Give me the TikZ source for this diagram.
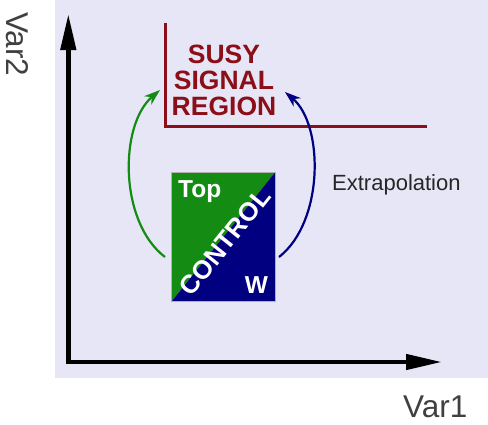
\documentclass[tikz,border=0pt]{standalone}
\usepackage{fontspec}
\setmainfont{Liberation Sans}
\usetikzlibrary{arrows.meta}
\definecolor{bgl}{RGB}{230,230,246}
\definecolor{susyred}{RGB}{140,14,24}
\definecolor{ctrlgreen}{RGB}{20,140,20}
\definecolor{ctrlblue}{RGB}{0,0,128}
\definecolor{labgray}{RGB}{64,64,64}
\tikzset{
  axis/.style={line width=4.5pt,-{Triangle[length=36pt,width=15pt]}},
  susyline/.style={susyred,line width=3pt},
  extrap/.style={line width=2.2pt,-{Stealth[length=16pt,width=11pt,inset=5pt]}},
  susytext/.style={susyred,font=\fontsize{26.5}{26.5}\selectfont\bfseries,inner sep=0pt,anchor=base},
  boxtext/.style={white,inner sep=0pt},
}
\begin{document}
\begin{tikzpicture}[x=1pt,y=-1pt]
\useasboundingbox (0,0) rectangle (488,424);
\fill[bgl] (55,0) rectangle (488,378);
% axes
\coordinate (o) at (68.3,362);
\coordinate (ytop) at (68.3,14);
\coordinate (xend) at (442,362);
\draw[axis] ([yshift=-2.25pt]o) -- (ytop);
\draw[axis] ([xshift=-2.25pt]o) -- (xend);
% signal region boundary
\coordinate (sr1) at (165.5,22.5);
\coordinate (sr2) at (165.5,126.5);
\coordinate (sr3) at (427,126.5);
\draw[susyline] (sr1) -- (sr2) -- (sr3);
\node[susytext] (susy) at (224,63) {SUSY};
\node[susytext] (signal) at (224,89) {SIGNAL};
\node[susytext] (region) at (224,115) {REGION};
% control box
\coordinate (bl) at (171.5,301.5);
\coordinate (tl) at (171.5,172.5);
\coordinate (tr) at (275,172.5);
\coordinate (br) at (275,301.5);
\fill[ctrlgreen] (bl) -- (tl) -- (tr) -- cycle;
\fill[ctrlblue] (bl) -- (tr) -- (br) -- cycle;
\draw[gray!60,line width=0.6pt] (bl) rectangle (tr);
\node[boxtext,font=\fontsize{24.5}{24.5}\selectfont\bfseries,anchor=base west] (top) at (178,197) {Top};
\node[boxtext,font=\fontsize{24.5}{24.5}\selectfont\bfseries,anchor=base] (w) at (256.5,293) {W};
\node[boxtext,font=\fontsize{26}{26}\selectfont\bfseries,rotate=51.3] (control) at (225,242) {CONTROL};
% extrapolation arrows
\coordinate (gs) at (165,257);
\coordinate (ge) at (160,90);
\coordinate (bs) at (279,257);
\coordinate (be) at (285,92);
\draw[extrap,ctrlgreen] (gs) .. controls (119,222) and (119,125) .. (ge);
\draw[extrap,ctrlblue] (bs) .. controls (324,222) and (324,125) .. (be);
\node[inner sep=0pt,anchor=base west,text=black!85,font=\fontsize{22}{22}\selectfont] (extra) at (332,190) {Extrapolation};
% axis labels
\node[inner sep=0pt,anchor=base west,text=labgray,font=\fontsize{31.5}{31.5}\selectfont] (var1) at (403,417) {Var1};
\node[inner sep=0pt,text depth=0pt,anchor=base west,text=labgray,font=\fontsize{31.5}{31.5}\selectfont,rotate=-90] (var2) at (6.5,12) {Var2};
\end{tikzpicture}
\end{document}
